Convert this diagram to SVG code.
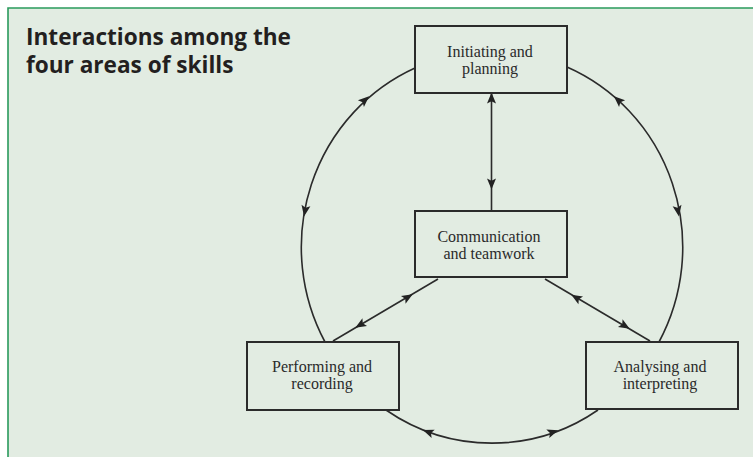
<svg xmlns="http://www.w3.org/2000/svg" width="753" height="457" viewBox="0 0 753 457">
<style>
.bg{fill:#e2ece2}
.frame{fill:none;stroke:#2a9a5c;stroke-width:1.6}
.title{font-family:"Open Sans","Liberation Sans",sans-serif;font-weight:700;font-size:22.6px;fill:#231f20}
.box{fill:none;stroke:#2b2b2b;stroke-width:2}
.lbl{font-family:"Liberation Serif","DejaVu Serif",serif;font-size:16px;fill:#2a2a2a;text-anchor:middle}
.conn{fill:none;stroke:#2b2b2b;stroke-width:1.6}
.ah{fill:#222}
</style>
<defs>
<path id="ah" d="M5.5,0 L-5.5,-4.5 L-3.2,0 L-5.5,4.5 Z"/>
</defs>
<rect x="0" y="0" width="753" height="457" fill="#ffffff"/>
<rect class="bg" x="8" y="8" width="745" height="449"/>
<path class="frame" d="M8,457 L8,8 L753,8"/>
<text class="title" x="26" y="45">Interactions among the</text>
<text class="title" x="26" y="73">four areas of skills</text>

<g id="connectors">
<path class="conn" d="M325,342 A190.5 196 0 0 1 415,68"/>
<path class="conn" d="M567,67 A190.5 196 0 0 1 659,342"/>
<path class="conn" d="M598,410 A190.5 196 0 0 1 386,410"/>
<path class="conn" d="M491.5,93 L491.5,211"/>
<path class="conn" d="M438,279 L333,341"/>
<path class="conn" d="M545,279 L650,341"/>
<g class="ah">
<use href="#ah" transform="translate(365,100) rotate(-42)"/>
<use href="#ah" transform="translate(305,211) rotate(100)"/>
<use href="#ah" transform="translate(618,100) rotate(-138)"/>
<use href="#ah" transform="translate(678,211) rotate(80)"/>
<use href="#ah" transform="translate(428,432) rotate(-160)"/>
<use href="#ah" transform="translate(553,432) rotate(-19)"/>
<use href="#ah" transform="translate(491.5,98) rotate(-90)"/>
<use href="#ah" transform="translate(491.5,184) rotate(90)"/>
<use href="#ah" transform="translate(408,297) rotate(-30.6)"/>
<use href="#ah" transform="translate(360,325) rotate(149.4)"/>
<use href="#ah" transform="translate(576,297.5) rotate(-149.4)"/>
<use href="#ah" transform="translate(625,326) rotate(30.6)"/>
</g>
</g>

<g id="initiating">
<rect class="box" x="415" y="26" width="152" height="67"/>
<text class="lbl" x="490" y="57">Initiating and</text>
<text class="lbl" x="490" y="74">planning</text>
</g>
<g id="communication">
<rect class="box" x="415" y="211" width="152" height="66"/>
<text class="lbl" x="489" y="242">Communication</text>
<text class="lbl" x="489" y="259">and teamwork</text>
</g>
<g id="performing">
<rect class="box" x="247" y="342" width="152" height="68"/>
<text class="lbl" x="322" y="372">Performing and</text>
<text class="lbl" x="322" y="389">recording</text>
</g>
<g id="analysing">
<rect class="box" x="586" y="342" width="152" height="67"/>
<text class="lbl" x="660" y="372">Analysing and</text>
<text class="lbl" x="660" y="389">interpreting</text>
</g>
</svg>
